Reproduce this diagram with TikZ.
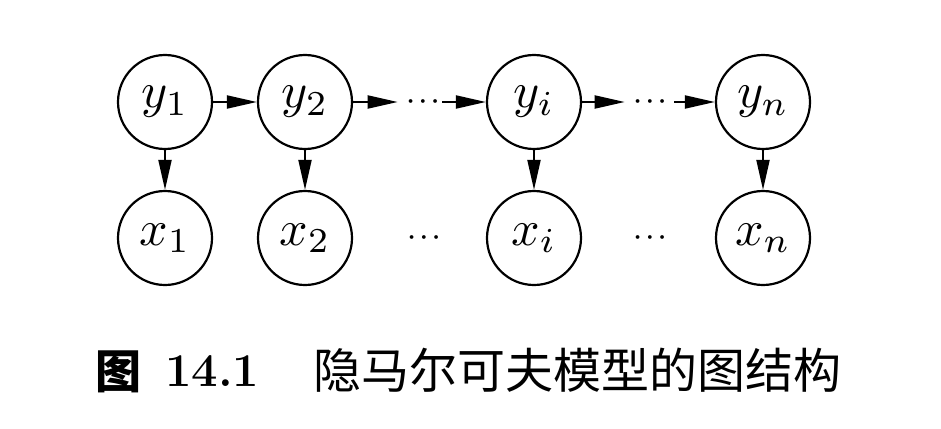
\documentclass[tikz,border=0pt]{standalone}
\usepackage{graphicx}
\usepackage{fontspec}
\newfontfamily\cjk{Noto Sans CJK SC}
\usetikzlibrary{arrows.meta}
\newcommand{\hmmvar}[1]{\scalebox{5}{$#1$}}
\newcommand{\hmmdots}{\scalebox{2.4}{\boldmath$\cdots$}}
\begin{document}
\begin{tikzpicture}[x=1pt,y=-1pt,
  var/.style={circle,draw,line width=2.2pt,minimum size=94pt,inner sep=0pt},
  dotsn/.style={inner sep=0pt},
  arr/.style={line width=2pt,-{Triangle[length=30pt,width=13pt]}},
  captxt/.style={anchor=base west,inner sep=0pt}
]
\useasboundingbox (0,0) rectangle (941,428);
\fill[white] (0,0) rectangle (941,428);
\node[var] (y1) at (165,102) {\hmmvar{y_1}};
\node[var] (y2) at (305,102) {\hmmvar{y_2}};
\node[var] (yi) at (534,102) {\hmmvar{y_i}};
\node[var] (yn) at (763,102) {\hmmvar{y_n}};
\node[var] (x1) at (165,238) {\hmmvar{x_1}};
\node[var] (x2) at (305,238) {\hmmvar{x_2}};
\node[var] (xi) at (534,238) {\hmmvar{x_i}};
\node[var] (xn) at (763,238) {\hmmvar{x_n}};
\node[dotsn] (d1) at (423,102) {\hmmdots};
\node[dotsn] (d2) at (650,102) {\hmmdots};
\node[dotsn] (d3) at (424,238) {\hmmdots};
\node[dotsn] (d4) at (650,238) {\hmmdots};
\draw[arr] (y1) -- (y2);
\draw[arr,shorten >=9pt] (y2) -- (d1);
\draw[arr,shorten <=3pt] (d1) -- (yi);
\draw[arr,shorten >=9pt] (yi) -- (d2);
\draw[arr,shorten <=8pt] (d2) -- (yn);
\draw[arr] (y1) -- (x1);
\draw[arr] (y2) -- (x2);
\draw[arr] (yi) -- (xi);
\draw[arr] (yn) -- (xn);
\node[captxt,font=\cjk\bfseries\fontsize{46}{50}\selectfont] (c1) at (95,388) {图};
\node[captxt,font=\bfseries\fontsize{47}{50}\selectfont] (c2) at (165,386) {14.1};
\node[captxt,font=\cjk\fontsize{48}{50}\selectfont] (c3) at (313,388) {隐马尔可夫模型的图结构};
\end{tikzpicture}
\end{document}
